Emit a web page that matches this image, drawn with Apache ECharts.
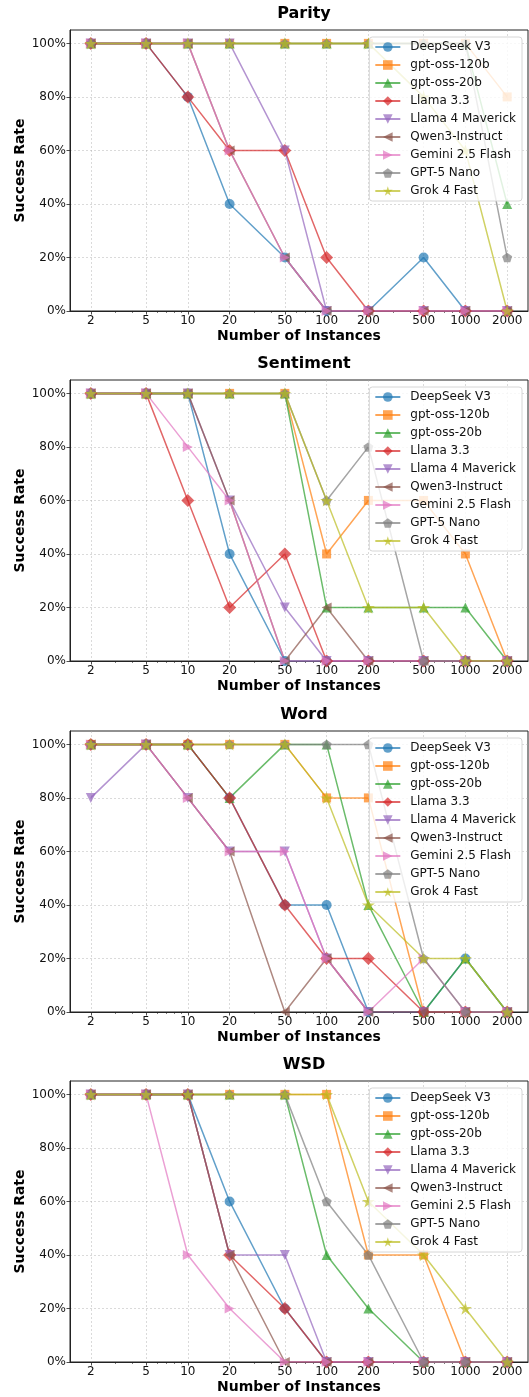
<!DOCTYPE html>
<html>
<head>
<meta charset="utf-8">
<script src="https://cdn.jsdelivr.net/npm/echarts@6/dist/echarts.min.js"></script>
<style>
  html, body { margin: 0; padding: 0; background: #fff; }
  #chart { width: 529px; height: 1397px; }
</style>
</head>
<body>
<div id="chart"></div>
<script>
// Number of instances per prompt (log-scaled x axis)
const instanceCounts = [2, 5, 10, 20, 50, 100, 200, 500, 1000, 2000];
const minorTickCounts = [3, 4, 6, 7, 8, 9, 30, 40, 60, 70, 80, 90, 300, 400, 600, 700, 800, 900];
const rateTicks = [0, 20, 40, 60, 80, 100];

const models = ['DeepSeek V3', 'gpt-oss-120b', 'gpt-oss-20b', 'Llama 3.3', 'Llama 4 Maverick',
                'Qwen3-Instruct', 'Gemini 2.5 Flash', 'GPT-5 Nano', 'Grok 4 Fast'];
const taskTitles = ['Parity', 'Sentiment', 'Word', 'WSD'];

// Success rate (%) per model, one row per model in the order of `models`
const parityRates = [
  [100, 100, 80, 40, 20, 0, 0, 20, 0, 0],
  [100, 100, 100, 100, 100, 100, 100, 100, 100, 80],
  [100, 100, 100, 100, 100, 100, 100, 100, 100, 40],
  [100, 100, 80, 60, 60, 20, 0, 0, 0, 0],
  [100, 100, 100, 100, 60, 0, 0, 0, 0, 0],
  [100, 100, 100, 60, 20, 0, 0, 0, 0, 0],
  [100, 100, 100, 60, 20, 0, 0, 0, 0, 0],
  [100, 100, 100, 100, 100, 100, 100, 100, 100, 20],
  [100, 100, 100, 100, 100, 100, 100, 80, 60, 0]
];
const sentimentRates = [
  [100, 100, 100, 40, 0, 0, 0, 0, 0, 0],
  [100, 100, 100, 100, 100, 40, 60, 60, 40, 0],
  [100, 100, 100, 100, 100, 20, 20, 20, 20, 0],
  [100, 100, 60, 20, 40, 0, 0, 0, 0, 0],
  [100, 100, 100, 60, 20, 0, 0, 0, 0, 0],
  [100, 100, 100, 60, 0, 20, 0, 0, 0, 0],
  [100, 100, 80, 60, 0, 0, 0, 0, 0, 0],
  [100, 100, 100, 100, 100, 60, 80, 0, 0, 0],
  [100, 100, 100, 100, 100, 60, 20, 20, 0, 0]
];
const wordRates = [
  [100, 100, 100, 80, 40, 40, 0, 0, 20, 0],
  [100, 100, 100, 100, 100, 80, 80, 0, 0, 0],
  [100, 100, 100, 80, 100, 100, 40, 0, 20, 0],
  [100, 100, 100, 80, 40, 20, 20, 0, 0, 0],
  [80, 100, 80, 60, 60, 20, 0, 0, 0, 0],
  [100, 100, 80, 60, 0, 20, 0, 0, 0, 0],
  [100, 100, 80, 60, 60, 20, 0, 20, 0, 0],
  [100, 100, 100, 100, 100, 100, 100, 20, 0, 0],
  [100, 100, 100, 100, 100, 80, 40, 20, 20, 0]
];
const wsdRates = [
  [100, 100, 100, 60, 20, 0, 0, 0, 0, 0],
  [100, 100, 100, 100, 100, 100, 40, 40, 0, 0],
  [100, 100, 100, 100, 100, 40, 20, 0, 0, 0],
  [100, 100, 100, 40, 20, 0, 0, 0, 0, 0],
  [100, 100, 100, 40, 40, 0, 0, 0, 0, 0],
  [100, 100, 100, 40, 0, 0, 0, 0, 0, 0],
  [100, 100, 40, 20, 0, 0, 0, 0, 0, 0],
  [100, 100, 100, 100, 100, 60, 40, 0, 0, 0],
  [100, 100, 100, 100, 100, 100, 60, 40, 20, 0]
];
const taskRates = [parityRates, sentimentRates, wordRates, wsdRates];

// ---- styling ----
const FONT = 'DejaVu Sans';
const colors = ['#1f77b4', '#ff7f0e', '#2ca02c', '#d62728', '#9467bd',
                '#8c564b', '#e377c2', '#7f7f7f', '#bcbd22'];

function polygonPath(points) {
  return 'path://' + points.map((p, i) => (i ? 'L' : 'M') + p[0].toFixed(3) + ',' + p[1].toFixed(3)).join('') + 'Z';
}
const pentagon = polygonPath([0, 1, 2, 3, 4].map(k => {
  const a = (-90 + 72 * k) * Math.PI / 180;
  return [Math.cos(a), Math.sin(a)];
}));
const star = polygonPath([...Array(10).keys()].map(k => {
  const a = (-90 + 36 * k) * Math.PI / 180;
  const r = k % 2 ? 0.382 : 1;
  return [r * Math.cos(a), r * Math.sin(a)];
}));
const markers = [
  { symbol: 'circle', size: 10 },
  { symbol: 'rect', size: 9 },
  { symbol: 'triangle', size: 10 },
  { symbol: 'diamond', size: 13 },
  { symbol: 'triangle', size: 10, rotate: 180 },
  { symbol: 'triangle', size: 10, rotate: 90 },
  { symbol: 'triangle', size: 10, rotate: -90 },
  { symbol: pentagon, size: 10 },
  { symbol: star, size: 13 }
];

const gridLeft = 70, gridRight = 1, gridHeight = 281;
const gridTops = [30, 380, 731, 1081];
const plotCenterX = gridLeft + (529 - gridLeft - gridRight) / 2;

const xMin = Math.log10(instanceCounts[0]) - 0.15;
const xMax = Math.log10(instanceCounts[instanceCounts.length - 1]) + 0.15;
const majorLog = instanceCounts.map(n => Math.log10(n));
const minorLog = minorTickCounts.map(n => Math.log10(n));

const gridLine = { show: true, lineStyle: { color: 'rgba(170,170,170,0.55)', width: 0.8, type: [2, 2] } };

const grids = [], xAxes = [], yAxes = [], titles = [], legends = [], series = [];

gridTops.forEach((top, g) => {
  grids.push({ left: gridLeft, right: gridRight, top, height: gridHeight,
               show: true, borderColor: '#222', borderWidth: 1, backgroundColor: 'transparent' });

  xAxes.push({
    type: 'value', gridIndex: g, min: xMin, max: xMax, position: 'bottom',
    axisLine: { show: true, lineStyle: { color: '#222', width: 1 } },
    axisTick: { show: true, customValues: majorLog, length: 3.5, lineStyle: { color: '#222', width: 0.8 } },
    axisLabel: { customValues: majorLog, formatter: v => String(Math.round(Math.pow(10, v))),
                 margin: 4, fontSize: 12, color: '#111', fontFamily: FONT },
    splitLine: gridLine,
    name: 'Number of Instances', nameLocation: 'middle', nameGap: 18, nameMoveOverlap: false,
    nameTextStyle: { fontWeight: 'bold', fontSize: 14, color: '#000', fontFamily: FONT }
  });
  xAxes.push({
    type: 'value', gridIndex: g, min: xMin, max: xMax, position: 'bottom',
    axisLine: { show: false },
    axisTick: { show: true, customValues: minorLog, length: 2, lineStyle: { color: '#222', width: 0.6 } },
    axisLabel: { show: false },
    splitLine: { show: false }
  });

  yAxes.push({
    type: 'value', gridIndex: g, min: 0, max: 105,
    axisLine: { show: true, lineStyle: { color: '#222', width: 1 } },
    axisTick: { show: true, customValues: rateTicks, length: 3.5, lineStyle: { color: '#222', width: 0.8 } },
    axisLabel: { customValues: rateTicks, formatter: v => v + '%', margin: 4, fontSize: 12,
                 color: '#111', fontFamily: FONT },
    splitLine: gridLine,
    name: 'Success Rate', nameLocation: 'middle', nameGap: 43, nameRotate: 90, nameMoveOverlap: false,
    nameTextStyle: { fontWeight: 'bold', fontSize: 14, color: '#000', fontFamily: FONT }
  });

  titles.push({
    text: taskTitles[g], left: plotCenterX, top: top - 29, textAlign: 'center',
    textStyle: { fontSize: 16, fontWeight: 'bold', color: '#000', fontFamily: FONT }
  });

  legends.push({
    data: models, orient: 'vertical', right: 7, top: top + 7,
    itemWidth: 25, itemHeight: 12, itemGap: 6,
    backgroundColor: 'rgba(255,255,255,0.8)', borderColor: '#d6d6d6', borderWidth: 1, borderRadius: 3,
    padding: [4, 6, 4, 5], selectedMode: false,
    textStyle: { fontSize: 12, color: '#111', fontFamily: FONT, padding: [0, 0, 0, 5] }
  });

  models.forEach((name, m) => {
    const mk = markers[m];
    series.push({
      type: 'line', name, xAxisIndex: g * 2, yAxisIndex: g,
      data: instanceCounts.map((n, k) => [Math.log10(n), taskRates[g][m][k]]),
      symbol: mk.symbol, symbolSize: mk.size, symbolRotate: mk.rotate || 0, symbolKeepAspect: true,
      showSymbol: true, showAllSymbol: true,
      lineStyle: { color: colors[m], width: 1.5, opacity: 0.7 },
      itemStyle: { color: colors[m], opacity: 0.7 },
      emphasis: { disabled: true }, animation: false
    });
  });
});

const chart = echarts.init(document.getElementById('chart'), null, { renderer: 'canvas' });
chart.setOption({
  backgroundColor: '#fff',
  animation: false,
  textStyle: { fontFamily: FONT },
  title: titles,
  legend: legends,
  grid: grids,
  xAxis: xAxes,
  yAxis: yAxes,
  series
});
</script>
</body>
</html>
